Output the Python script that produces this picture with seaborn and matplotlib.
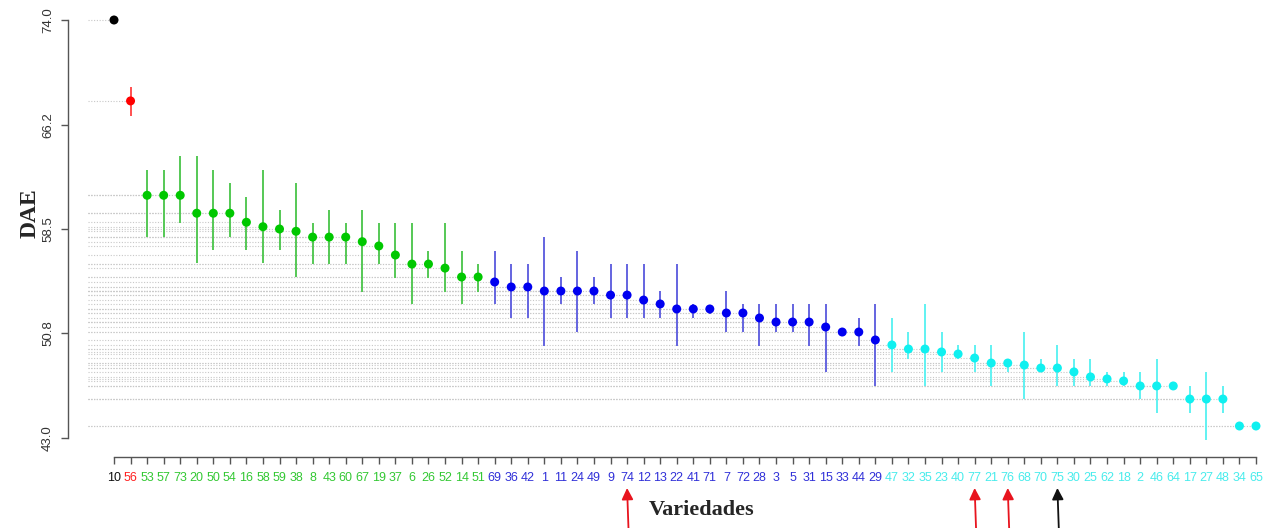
import matplotlib
matplotlib.use("Agg")
import matplotlib.pyplot as plt
import matplotlib.transforms as mtransforms
import seaborn as sns
import pandas as pd
import numpy as np

# ---------------- data ----------------
labels = ["10", "56", "53", "57", "73", "20", "50", "54", "16", "58", "59", "38", "8", "43", "60",
          "67", "19", "37", "6", "26", "52", "14", "51", "69", "36", "42", "1", "11", "24", "49",
          "9", "74", "12", "13", "22", "41", "71", "7", "72", "28", "3", "5", "31", "15", "33",
          "44", "29", "47", "32", "35", "23", "40", "77", "21", "76", "68", "70", "75", "30", "25",
          "62", "18", "2", "46", "64", "17", "27", "48", "34", "65"]
groups = (["a"] + ["b"] + ["c"] * 21 + ["d"] * 24 + ["e"] * 23)
means = [74.0, 68.0, 61.0, 61.0, 61.0, 59.67, 59.67, 59.67, 59.0, 58.67, 58.5, 58.33, 57.9, 57.9, 57.9,
         57.56, 57.24, 56.57, 55.9, 55.9, 55.6, 54.94, 54.94, 54.57, 54.2, 54.2, 53.9, 53.9, 53.9, 53.9,
         53.6, 53.6, 53.23, 52.94, 52.57, 52.57, 52.57, 52.27, 52.27, 51.9, 51.6, 51.6, 51.6, 51.23, 50.86,
         50.86, 50.27, 49.9, 49.6, 49.6, 49.38, 49.23, 48.93, 48.56, 48.56, 48.41, 48.19, 48.19, 47.9, 47.53,
         47.38, 47.23, 46.86, 46.86, 46.86, 45.89, 45.89, 45.89, 43.89, 43.89]
upper = [74.0, 69.0, 62.9, 62.9, 63.9, 63.9, 62.9, 61.9, 60.87, 62.9, 59.9, 61.9, 58.95, 59.9, 58.95,
         59.9, 58.95, 58.95, 58.95, 56.87, 58.95, 56.87, 55.9, 56.87, 55.9, 55.9, 57.9, 54.94, 56.87, 54.94,
         55.9, 55.9, 55.9, 53.9, 55.9, 52.94, 52.8, 53.9, 52.94, 52.94, 52.94, 52.94, 52.94, 52.94, 50.86,
         51.9, 52.94, 51.9, 50.86, 52.94, 50.86, 49.9, 49.9, 49.9, 48.86, 50.86, 48.86, 49.9, 48.86, 48.86,
         47.9, 47.9, 47.9, 48.86, 46.86, 46.86, 47.9, 46.86, 43.89, 43.89]
lower = [74.0, 66.9, 57.91, 57.91, 58.95, 55.98, 56.94, 57.91, 56.94, 55.98, 56.94, 54.94, 55.9, 55.9, 55.9,
         53.83, 55.9, 54.87, 52.94, 54.87, 53.83, 52.94, 53.83, 52.94, 51.9, 51.9, 49.82, 52.94, 50.86, 52.94,
         51.9, 51.9, 51.9, 51.9, 49.82, 51.9, 52.2, 50.86, 50.86, 49.82, 50.86, 50.86, 49.82, 47.9, 50.86,
         49.82, 46.86, 47.9, 48.86, 46.86, 47.9, 48.86, 47.9, 46.86, 47.9, 45.89, 47.9, 46.86, 46.86, 46.86,
         46.86, 46.86, 45.89, 44.86, 46.86, 44.86, 42.85, 44.86, 43.89, 43.89]
yticks = [43.0, 50.8, 58.5, 66.2, 74.0]
ytick_labels = ["43.0", "50.8", "58.5", "66.2", "74.0"]
red_arrows = ["74", "77", "76"]
black_arrows = ["75"]

point_colors = {"a": "#000000", "b": "#FF0000", "c": "#00C800", "d": "#0000F0", "e": "#10F0F0"}
bar_colors = {"a": "#000000", "b": "#FF5050", "c": "#55C855", "d": "#6464E0", "e": "#60F2F2"}
text_colors = {"a": "#111111", "b": "#FF2020", "c": "#33C833", "d": "#3030D8", "e": "#48ECEC"}

df = pd.DataFrame({"label": labels, "group": groups, "mean": means,
                   "lower": lower, "upper": upper})
df["pos"] = np.arange(len(df))

# ---------------- figure ----------------
sns.set_style("white")
W, H = 1274, 528
fig = plt.figure(figsize=(W / 100, H / 100), dpi=100)
ax_left, ax_right, ax_top, ax_bot = 68, 1270, 10, 457
ax = fig.add_axes([ax_left / W, 1 - ax_bot / H, (ax_right - ax_left) / W, (ax_bot - ax_top) / H])

px_per = (1256 - 114) / 69
xlo = -(114 - ax_left) / px_per
xhi = 69 + (ax_right - 1256) / px_per
ylo_px, yhi_px = 438, 20
py_per = (ylo_px - yhi_px) / 31.0
ylo = 43.0 - (ax_bot - ylo_px) / py_per
yhi = 74.0 + (yhi_px - ax_top) / py_per
ax.set_xlim(xlo, xhi)
ax.set_ylim(ylo, yhi)

# dotted guide lines from the left to each point
xstart = -(114 - 88) / px_per
ax.hlines(df["mean"], xstart, df["pos"], colors="#C8C8C8", linestyles=(0, (1, 1.5)),
          linewidth=0.8, zorder=1)

# error bars
for g, sub in df.groupby("group"):
    ax.vlines(sub["pos"], sub["lower"], sub["upper"], colors=bar_colors[g], linewidth=1.4, zorder=2)

# points
sns.scatterplot(data=df, x="pos", y="mean", hue="group", palette=point_colors, s=42,
                edgecolor="none", legend=False, ax=ax, zorder=3)

# axes styling (R base style)
for s in ["top", "right"]:
    ax.spines[s].set_visible(False)
for s in ["left", "bottom"]:
    ax.spines[s].set_color("#555555")
    ax.spines[s].set_linewidth(1.0)
ax.spines["left"].set_bounds(43.0, 74.0)
ax.spines["bottom"].set_bounds(0, len(df) - 1)

ax.set_yticks(yticks)
ax.set_yticklabels(ytick_labels, rotation=90, va="center", fontsize=9.5,
                   family="Liberation Sans", color="#333333")
ax.tick_params(axis="y", which="major", left=True, direction="out", length=5, width=1.0,
               color="#555555", pad=5)

ax.set_xticks(df["pos"])
ax.set_xticklabels(df["label"], fontsize=9, family="Liberation Sans")
for t, g in zip(ax.get_xticklabels(), df["group"]):
    t.set_color(text_colors[g])
ax.tick_params(axis="x", which="major", bottom=True, direction="out", length=5, width=1.0,
               color="#555555", pad=6)
ax.set_xlabel("")
ax.set_ylabel("")
ax.grid(False)

# axis titles
ax.text((30 - ax_left) / (ax_right - ax_left), (ax_bot - 213) / (ax_bot - ax_top), "DAE",
        transform=ax.transAxes, rotation=90, ha="center", va="center",
        fontsize=17, fontweight="bold", family="Liberation Serif")
ax.text((702 - ax_left) / (ax_right - ax_left), (ax_bot - 510) / (ax_bot - ax_top), "Variedades",
        transform=ax.transAxes, ha="center", va="center",
        fontsize=16, fontweight="bold", family="Liberation Serif", clip_on=False)

# arrows under selected labels
trans = mtransforms.blended_transform_factory(ax.transData, ax.transAxes)
head_y = (ax_bot - 488) / (ax_bot - ax_top)
tail_y = (ax_bot - 545) / (ax_bot - ax_top)
for lab, col in [(l, "#E8141E") for l in red_arrows] + [(l, "#111111") for l in black_arrows]:
    p = labels.index(lab)
    ax.annotate("", xy=(p, head_y), xycoords=trans, xytext=(p + 0.12, tail_y), textcoords=trans,
                arrowprops=dict(arrowstyle="-|>", color=col, lw=1.3, mutation_scale=17,
                                shrinkA=0, shrinkB=0), annotation_clip=False)

fig.savefig("out.png", dpi=100, facecolor="white")
